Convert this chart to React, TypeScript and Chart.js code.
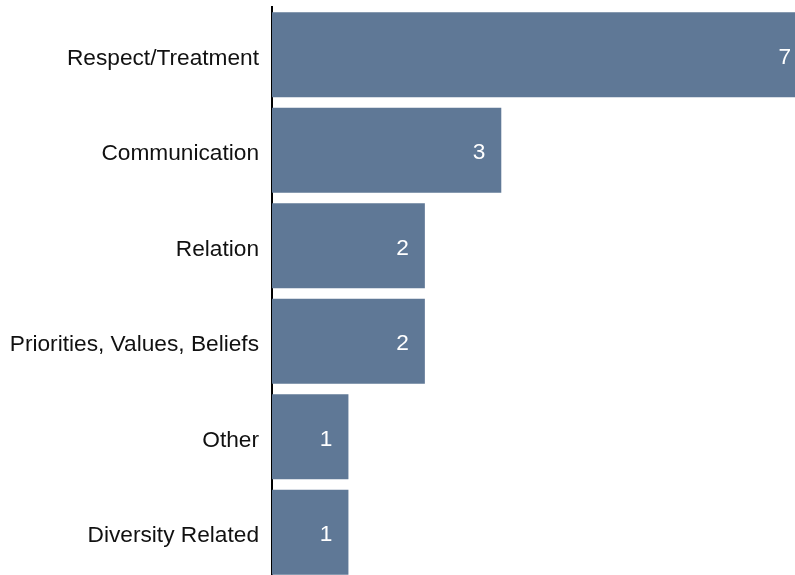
import React, { useEffect, useRef } from "react";
import { Chart, registerables } from "chart.js";

Chart.register(...registerables);

const categories = [
  "Respect/Treatment",
  "Communication",
  "Relation",
  "Priorities, Values, Beliefs",
  "Other",
  "Diversity Related",
];
const counts = [7, 3, 2, 2, 1, 1];
const barColor = "#5f7896";
const fontFamily = '"Liberation Sans", Arial, sans-serif';

const textLabels = {
  id: "textLabels",
  afterDatasetsDraw(chart: any) {
    const ctx = chart.ctx;
    const meta = chart.getDatasetMeta(0);
    const yScale = chart.scales.y;
    ctx.save();
    ctx.font = `22.7px ${fontFamily}`;
    ctx.textBaseline = "alphabetic";
    ctx.textAlign = "right";
    // category labels
    ctx.fillStyle = "#111111";
    categories.forEach((c, i) => {
      const y = yScale.getPixelForTick(i);
      ctx.fillText(c, yScale.right - 13, y + 10);
    });
    // value labels
    ctx.fillStyle = "#ffffff";
    meta.data.forEach((bar: any, i: number) => {
      ctx.fillText(String(counts[i]), bar.x - 16, bar.y + 9);
    });
    ctx.restore();
  },
};

export default function App() {
  const ref = useRef<HTMLCanvasElement>(null);
  useEffect(() => {
    if (!ref.current) return;
    const chart = new Chart(ref.current, {
      type: "bar",
      data: {
        labels: categories,
        datasets: [
          {
            data: counts,
            backgroundColor: barColor,
            borderWidth: 0,
            categoryPercentage: 1,
            barPercentage: 0.89,
          },
        ],
      },
      options: {
        indexAxis: "y",
        animation: false,
        responsive: false,
        devicePixelRatio: 1,
        layout: { padding: { top: 7, bottom: 0, left: 0, right: 0 } },
        plugins: {
          legend: { display: false },
          tooltip: { enabled: false },
        },
        scales: {
          x: {
            display: false,
            min: 0,
            max: 7,
          },
          y: {
            afterFit(scale: any) {
              scale.width = 272;
              scale.paddingTop = 0;
              scale.paddingBottom = 0;
            },
            grid: { display: false, drawTicks: false },
            border: { display: true, color: "#000000", width: 2 },
            ticks: {
              display: false,
              font: { family: fontFamily, size: 22.7 },
            },
          },
        },
      },
      plugins: [textLabels],
    });
    return () => chart.destroy();
  }, []);
  return (
    <div
      style={{
        position: "fixed",
        left: 0,
        top: 0,
        width: 795,
        height: 575,
        overflow: "hidden",
        background: "#ffffff",
      }}
    >
      <canvas
        ref={ref}
        width={807}
        height={580}
        style={{ position: "absolute", left: 0, top: 0, width: 807, height: 580 }}
      />
    </div>
  );
}
